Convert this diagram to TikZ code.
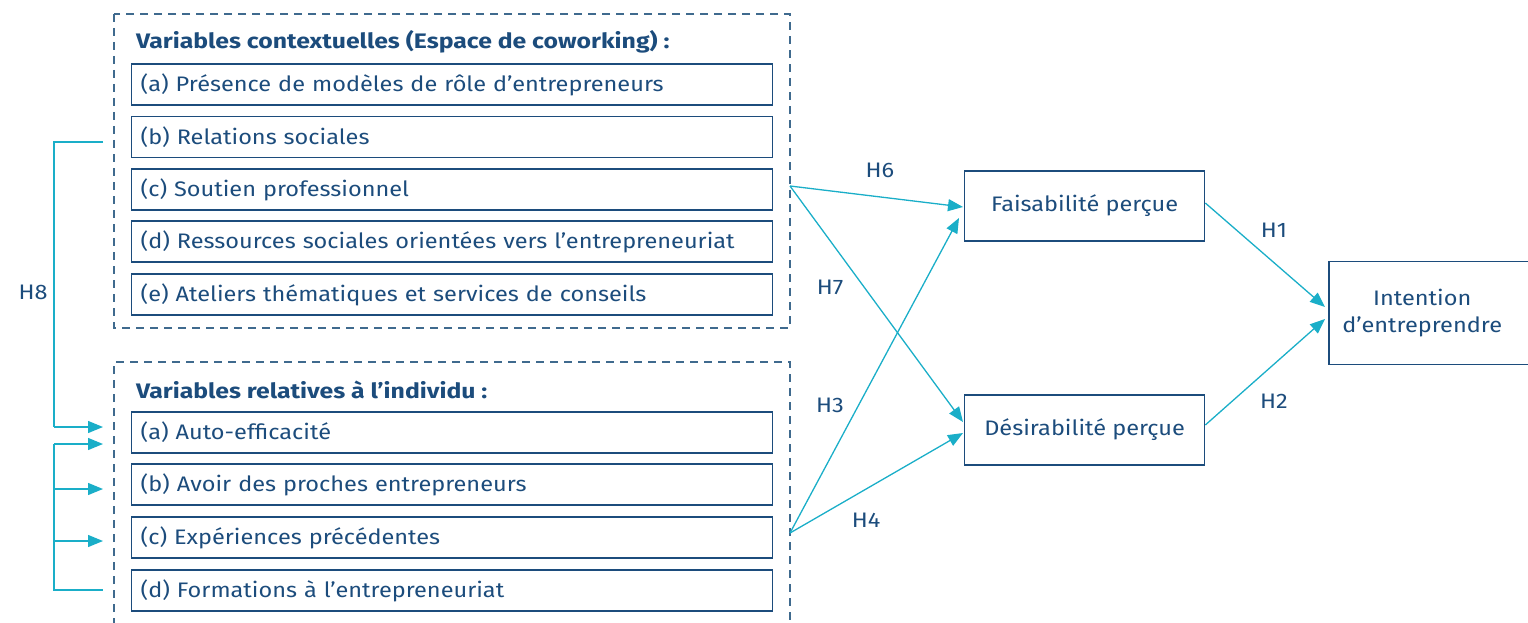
\documentclass[tikz,border=0pt]{standalone}
\usepackage{fontspec}
\setmainfont{Fira Sans}[FakeStretch=1.12,BoldFeatures={FakeStretch=1.18}]
\usetikzlibrary{arrows.meta,calc}
\definecolor{navy}{HTML}{1C4C7C}
\definecolor{dashc}{HTML}{3F6A8E}
\definecolor{cyanc}{HTML}{1AAEC8}
\begin{document}
\begin{tikzpicture}[x=1pt,y=-1pt,
  txt/.style={text=navy,font=\fontsize{21}{27}\selectfont},
  item/.style={txt,draw=navy,line width=1.3pt,anchor=west,minimum height=41pt,
    text width=623pt,inner xsep=9pt,align=left},
  bigbox/.style={txt,draw=navy,line width=1.3pt,minimum width=240pt,minimum height=70pt,anchor=west},
  head/.style={txt,font=\fontsize{21}{27}\selectfont\bfseries,anchor=west,inner sep=0pt},
  dashbox/.style={draw=dashc,line width=1.2pt,dash pattern=on 8pt off 6pt},
  link/.style={draw=cyanc,line width=1.3pt},
  arr/.style={link,-{Triangle[length=15pt,width=12pt]}},
  hlab/.style={txt,inner sep=0pt}]
\useasboundingbox (0,0) rectangle (1528,623);
% dashed group boxes
\draw[dashbox] (114,14) rectangle (790,328);
\draw[dashbox] (114,640) -- (114,362) -- (790,362) -- (790,640);
% headings
\node[head] (h1) at (136,42) {Variables contextuelles (Espace de coworking) :};
\node[head] (h2) at (136,390) {Variables relatives à l’individu :};
% contextual items
\node[item] (ca) at (131,84.5) {(a) Présence de modèles de rôle d’entrepreneurs};
\node[item] (cb) at (131,137) {(b) Relations sociales};
\node[item] (cc) at (131,189.5) {(c) Soutien professionnel};
\node[item] (cd) at (131,241.5) {(d) Ressources sociales orientées vers l’entrepreneuriat};
\node[item] (ce) at (131,294.5) {(e) Ateliers thématiques et services de conseils};
% individual items
\node[item] (ia) at (131,432.5) {(a) Auto-efficacité};
\node[item] (ib) at (131,484.5) {(b) Avoir des proches entrepreneurs};
\node[item] (ic) at (131,537.5) {(c) Expériences précédentes};
\node[item] (id) at (131,590.5) {(d) Formations à l’entrepreneuriat};
% right boxes
\node[bigbox] (fais) at (964,206) {Faisabilité perçue};
\node[bigbox] (desi) at (964,430) {Désirabilité perçue};
\node[txt,anchor=west,minimum width=186pt,minimum height=102pt,align=center] (inte) at (1329,313) {Intention\\d’entreprendre};
\draw[navy,line width=1.3pt] ([xshift=220pt]inte.north west) -- (inte.north west) -- (inte.south west) -- ([xshift=220pt]inte.south west);
% connector origins
\coordinate (oc) at (790,186);
\coordinate (oi) at (790,533);
\coordinate (b1) at (103,142);
\coordinate (b2) at (103,427);
\coordinate (b3) at (103,444);
\coordinate (b4) at (103,489);
\coordinate (b5) at (103,541);
\coordinate (b6) at (103,590);
% H6 H7 H3 H4
\draw[arr] (oc) -- ([xshift=-1pt,yshift=-1pt]fais.west);
\draw[arr] (oc) -- ([xshift=-1pt,yshift=8pt]desi.west);
\draw[arr] (oi) -- ([xshift=-5pt,yshift=-12pt]fais.west);
\draw[arr] (oi) -- ([xshift=-1pt,yshift=-3pt]desi.west);
% H1 H2
\draw[arr] ([yshift=3pt]fais.east) -- ([xshift=-4pt,yshift=6pt]inte.west);
\draw[arr] ([yshift=5pt]desi.east) -- ([xshift=-4pt,yshift=-6pt]inte.west);
% H8 bracket
\draw[link] (b1) -- (54,142) -- (54,427);
\draw[arr] (54,427) -- (b2);
\draw[arr] (54,444) -- (b3);
\draw[link] (54,444) -- (54,590) -- (b6);
\draw[arr] (54,489) -- (b4);
\draw[arr] (54,541) -- (b5);
% labels
\node[hlab] (l8) at (33,292) {H8};
\node[hlab] (l6) at (880,170) {H6};
\node[hlab] (l7) at (830,287) {H7};
\node[hlab] (l3) at (830,405) {H3};
\node[hlab] (l4) at (866,520) {H4};
\node[hlab] (l1) at (1274,230) {H1};
\node[hlab] (l2) at (1274,401) {H2};
\end{tikzpicture}
\end{document}
